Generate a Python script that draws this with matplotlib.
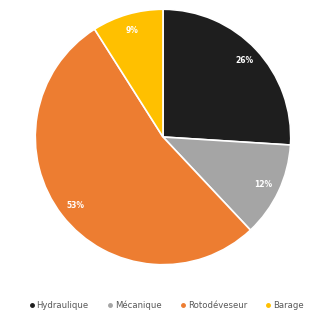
import matplotlib
matplotlib.use("Agg")
import matplotlib.pyplot as plt
from matplotlib.lines import Line2D

categories = ["Hydraulique", "Mécanique", "Rotodéveseur", "Barage"]
values = [26, 12, 53, 9]
colors = ["#1e1e1e", "#a5a5a5", "#ed7d31", "#ffc000"]

fig = plt.figure(figsize=(3.33, 3.19), dpi=100)
ax = fig.add_axes([34/333, 53/319, 258/333, 258/319])
wedges, texts, autotexts = ax.pie(
    values, colors=colors, startangle=90, counterclock=False,
    autopct=lambda p: f"{p:.0f}%", pctdistance=0.87,
    wedgeprops=dict(edgecolor="white", linewidth=1.2),
    textprops=dict(color="white", fontsize=5.5, fontweight="bold"))
ax.set_xlim(-1.01, 1.01)
ax.set_ylim(-1.01, 1.01)
ax.set_aspect("equal")

handles = [Line2D([0], [0], marker="o", linestyle="", markersize=2.5,
                  markerfacecolor=c, markeredgecolor=c) for c in colors]
fig.legend(handles, categories, loc="center", bbox_to_anchor=(0.5, 1 - 305/319),
           ncol=4, frameon=False, fontsize=6.1, labelcolor="#595959",
           handletextpad=0.3, columnspacing=2.2, handlelength=0.6)

fig.savefig("out.png", dpi=100)
